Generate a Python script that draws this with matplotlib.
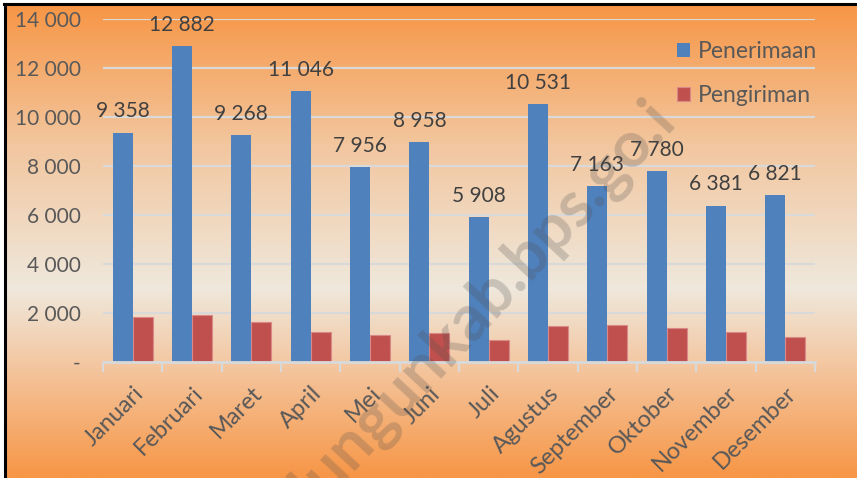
import numpy as np
import matplotlib.pyplot as plt
from matplotlib.colors import LinearSegmentedColormap
from matplotlib.lines import Line2D
from matplotlib.ticker import FuncFormatter

bulan = ["Januari", "Februari", "Maret", "April", "Mei", "Juni", "Juli",
         "Agustus", "September", "Oktober", "November", "Desember"]
penerimaan = [9358, 12882, 9268, 11046, 7956, 8958, 5908, 10531, 7163, 7780, 6381, 6821]
pengiriman = [1840, 1905, 1635, 1215, 1090, 1185, 915, 1455, 1510, 1405, 1240, 1010]

plt.rcParams['font.family'] = ['Lato', 'DejaVu Sans']

W, H = 857, 478
fig = plt.figure(figsize=(W / 100, H / 100), dpi=100, facecolor='white')

# latar belakang gradasi oranye - krem - oranye
bg = fig.add_axes([5 / W, 0, 1 - 5 / W, 1 - 5 / H], zorder=-10)
cmap = LinearSegmentedColormap.from_list(
    "bg", [(0.0, "#f79646"), (0.30, "#f2c7a0"), (0.60, "#efe8dc"),
           (0.78, "#f4c39a"), (1.0, "#f79646")])
grad = np.linspace(0, 1, 256).reshape(-1, 1)
bg.imshow(grad, aspect='auto', cmap=cmap, extent=[0, 1, 0, 1], origin='upper')
bg.set_axis_off()

# bingkai hitam kiri dan atas
fig.add_artist(Line2D([5 / W, 5 / W], [0, 1 - 4 / H], color='black', lw=2.2))
fig.add_artist(Line2D([4 / W, 1], [1 - 4 / H, 1 - 4 / H], color='black', lw=2.2))

ax = fig.add_axes([103 / W, 1 - 362 / H, (815 - 103) / W, (362 - 18.7) / H])
ax.patch.set_alpha(0)

x = np.arange(len(bulan))
w = 0.337
ax.bar(x - w / 2, penerimaan, w, color='#4f81bd', label='Penerimaan', zorder=3)
ax.bar(x + w / 2, pengiriman, w, color='#c0504d', edgecolor='#d98987',
       linewidth=0.8, label='Pengiriman', zorder=3)

for xi, v in zip(x, penerimaan):
    ax.annotate(f"{v:,}".replace(",", " "), (xi - w / 2, v), xytext=(0, 8),
                textcoords='offset points', ha='center', va='bottom',
                fontsize=15, color='#404040')

ax.set_xlim(-0.5, len(bulan) - 0.5)
ax.set_ylim(0, 14000)
ax.set_yticks(np.arange(0, 14001, 2000))
ax.yaxis.set_major_formatter(FuncFormatter(
    lambda v, p: "-" if v == 0 else f"{int(v):,}".replace(",", " ")))
ax.grid(axis='y', color='#d9d9d9', lw=1.6, zorder=0)
ax.set_axisbelow(True)

for s in ['top', 'right', 'left']:
    ax.spines[s].set_visible(False)
ax.spines['bottom'].set_color('#d9d9d9')
ax.spines['bottom'].set_linewidth(2)
ax.spines['bottom'].set_zorder(4)

ax.tick_params(axis='y', length=0, labelsize=15, labelcolor='#595959', pad=16)
ax.set_xticks(x)
ax.set_xticklabels(bulan, rotation=45, ha='right', rotation_mode='anchor',
                   fontsize=17, color='#595959')
ax.tick_params(axis='x', length=0, pad=15)
ax.set_xticks(np.arange(-0.5, len(bulan)), minor=True)
ax.tick_params(axis='x', which='minor', length=7, width=1.6, color='#d9d9d9')

leg = ax.legend(loc='upper right', bbox_to_anchor=(1.032, 0.995), frameon=False,
                fontsize=16.5, labelcolor='#595959', handlelength=0.55,
                handleheight=0.55, handletextpad=0.35, labelspacing=1.0)

# watermark
fig.text(678 / W, 1 - 122 / H, "simalungunkab.bps.go.i", fontsize=46,
         fontweight='bold', color='#505050', alpha=0.25, rotation=47,
         ha='right', va='baseline', rotation_mode='anchor', zorder=20)

fig.savefig("out.png", dpi=100, facecolor=fig.get_facecolor())
